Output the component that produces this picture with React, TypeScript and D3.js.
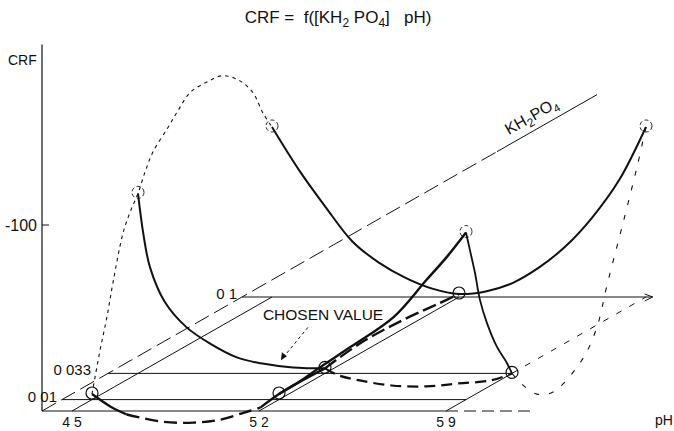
import React from 'react';
import * as d3 from 'd3';

const W = 674;
const H = 431;

// Design levels of the two factors
const PH_LEVELS = [4.5, 5.2, 5.9];
const PH_LABELS = ['4 5', '5 2', '5 9'];
const KH2PO4_LEVELS = [0.01, 0.033, 0.1];
const KH2PO4_LABELS = ['0 01', '0 033', '0 1'];
const CRF_TICKS = [-100];
const CRF_TICK_LABELS = ['-100'];

// CRF at each design point: rows follow PH_LEVELS, columns KH2PO4_LEVELS
const CRF_DESIGN = [
  [-3.0, -96.8, -91.4],
  [-3.0, -2.7, -1.6],
  [-89.8, 0.0, -91.4],
];

// Sections at constant KH2PO4: [pH, CRF]
const KH_010_VS_PH = [
  [4.5, -91.4], [4.6, -68.5], [4.7, -48.5], [4.8, -30], [4.9, -18.5], [5.0, -10.3],
  [5.1, -4.5], [5.2, -1.6], [5.3, -3.0], [5.4, -7.5], [5.5, -15.9], [5.6, -27.4],
  [5.7, -43], [5.8, -63], [5.9, -91.4],
];
const KH_033_VS_PH_FRONT = [
  [4.5, -96.8], [4.52, -75], [4.545, -57], [4.6, -38.5], [4.68, -25], [4.77, -16],
  [4.87, -8.6], [4.96, -5.4], [5.08, -3.2], [5.2, -2.7],
];
const KH_033_VS_PH_BACK = [
  [5.2, -2.7], [5.25, 1], [5.33, 3.8], [5.45, 6.5], [5.58, 7], [5.7, 5.4], [5.82, 3.8], [5.9, 0],
];
const KH_001_VS_PH_LOW = [[4.5, -3.0], [4.57, 3.8], [4.63, 8]];
const KH_001_VS_PH_HIDDEN = [
  [4.63, 8], [4.76, 11.8], [4.88, 12.4], [4.98, 10.8], [5.07, 7], [5.13, 4.3],
];
const KH_001_VS_PH_RISE = [
  [5.13, 4.3], [5.2, -3.0], [5.28, -10], [5.36, -18], [5.47, -28.5], [5.63, -44.5],
  [5.75, -64], [5.83, -77], [5.9, -89.8],
];

// Sections at constant pH: [KH2PO4, CRF]
const PH_45_VS_KH = [
  [0.01, -3.0], [0.014, -24], [0.0175, -40], [0.0205, -56.5], [0.0255, -80], [0.029, -89],
  [0.033, -96.8], [0.0365, -106], [0.0405, -114.5], [0.048, -123], [0.053, -129],
  [0.059, -135], [0.0675, -135.5], [0.0755, -134], [0.084, -126], [0.0905, -115.6],
  [0.0955, -101.6], [0.1, -91.4],
];
const PH_52_VS_KH_FRONT = [[0.01, -3.0], [0.021, -3.2], [0.033, -2.7]];
const PH_52_VS_KH_BACK = [[0.033, -2.7], [0.051, -5.4], [0.072, -4.8], [0.09, -2.7], [0.1, -1.6]];
const PH_59_VS_KH_FRONT = [
  [0.01, -89.8], [0.012, -79], [0.0145, -65.3], [0.017, -49.2], [0.0205, -34.7],
  [0.0255, -18.8], [0.0305, -7], [0.033, 0],
];
const PH_59_VS_KH_BACK = [
  [0.033, 0], [0.0385, 9.7], [0.0455, 18.8], [0.0535, 22.6], [0.068, 14.2], [0.0755, 1.1],
  [0.0805, -18.3], [0.088, -45], [0.0955, -72.6], [0.1, -91.4],
];

// Oblique projection: pH runs to the right, KH2PO4 recedes up-right, CRF rises vertically
const xPH = d3.scaleLinear().domain([4.5, 5.9]).range([72, 446]);
const depthX = d3.scaleLinear().domain([0, 0.1]).range([0, 200]);
const depthY = d3.scaleLinear().domain([0, 0.1]).range([0, 114]);
const yCRF = d3.scaleLinear().domain([0, -100]).range([411, 225]);

const PH_ORIGIN = xPH.invert(42);
const PH_BASE_END = 6.23;
const PH_BACK_END = 5.925;
const KH_AXIS_SOLID = 0.2275;
const KH_AXIS_END = 0.2775;
const CRF_AXIS_TOP = -197;
// gap between each KH2PO4 level label and the start of its line
const LEVEL_LABEL_GAP = [5, 17, 5];

const project = (ph: number, kh: number, crf: number): [number, number] => [
  xPH(ph) + depthX(kh),
  yCRF(crf) - depthY(kh),
];

const FONT = 'Liberation Sans, Arial, sans-serif';

export default function App() {
  const line = d3.line<[number, number]>().curve(d3.curveCatmullRom.alpha(0.5));
  const alongPH = (kh: number, pts: number[][]) =>
    line(pts.map(([ph, c]) => project(ph, kh, c))) || '';
  const alongKH = (ph: number, pts: number[][]) =>
    line(pts.map(([kh, c]) => project(ph, kh, c))) || '';
  const seg = (a: [number, number], b: [number, number]) => `M${a[0]},${a[1]}L${b[0]},${b[1]}`;

  const origin = project(PH_ORIGIN, 0, 0);
  const khSolid = project(PH_ORIGIN, KH_AXIS_SOLID, 0);
  const khEnd = project(PH_ORIGIN, KH_AXIS_END, 0);
  const angle = (Math.atan2(-depthY(0.1), depthX(0.1)) * 180) / Math.PI;
  const labelAnchor = project(PH_ORIGIN, KH_AXIS_SOLID, 0);

  // level line at 0.1 ends in an arrow
  const backEnd = project(PH_BACK_END, 0.1, 0);

  // annotation of the selected operating point
  const noteTip = project(5.035, 0.033, -7);
  const noteTail: [number, number] = [noteTip[0] + 27, noteTip[1] - 33];

  const thin = { fill: 'none', stroke: '#111', strokeWidth: 1 };

  return (
    <svg
      width={W}
      height={H}
      style={{ position: 'absolute', left: 0, top: 0, background: '#fff' }}
      fontFamily={FONT}
    >
      {/* title */}
      <text x={338} y={23} textAnchor="middle" fontSize={17} style={{ whiteSpace: 'pre' }} fill="#111">
        <tspan>{'CRF =  f([KH'}</tspan>
        <tspan dy={4} fontSize={12}>2</tspan>
        <tspan dy={-4}>{' PO'}</tspan>
        <tspan dy={4} fontSize={12}>4</tspan>
        <tspan dy={-4}>{']   pH)'}</tspan>
      </text>

      {/* CRF axis */}
      <path d={seg([origin[0], yCRF(CRF_AXIS_TOP)], origin)} {...thin} strokeWidth={1.2} />
      <text x={8} y={65} fontSize={14} fill="#111">CRF</text>
      {CRF_TICKS.map((t, i) => (
        <g key={t}>
          <path d={seg([origin[0], yCRF(t)], [origin[0] + 7, yCRF(t)])} {...thin} />
          <text x={37} y={yCRF(t) + 6} fontSize={16} textAnchor="end" fill="#111">
            {CRF_TICK_LABELS[i]}
          </text>
        </g>
      ))}

      {/* pH base axis */}
      <path d={seg(origin, project(5.9, 0, 0))} {...thin} />
      <path d={seg(project(5.9, 0, 0), project(PH_BASE_END, 0, 0))} {...thin} strokeDasharray="12 6" />
      {PH_LEVELS.map((ph, i) => (
        <text key={ph} x={xPH(ph)} y={427} fontSize={14} textAnchor="middle" fill="#111" style={{ whiteSpace: 'pre' }}>
          {PH_LABELS[i]}
        </text>
      ))}
      <text x={655} y={425} fontSize={14} fill="#111">pH</text>

      {/* KH2PO4 axis */}
      <path d={seg(origin, khSolid)} {...thin} strokeDasharray="16 6" />
      <path d={seg(khSolid, khEnd)} {...thin} />
      <g transform={`translate(${labelAnchor[0] - 3},${labelAnchor[1] - 8}) rotate(${angle})`}>
        <text x={17} y={0} fontSize={16} fill="#111">
          <tspan>KH</tspan>
          <tspan dy={4} fontSize={12}>2</tspan>
          <tspan dy={-4}>PO</tspan>
          <tspan dy={4} fontSize={11}>4</tspan>
        </text>
      </g>

      {/* KH2PO4 level lines across pH */}
      {KH2PO4_LEVELS.map((kh, i) => {
        const start = project(PH_ORIGIN, kh, 0);
        const end = i === 2 ? backEnd : project(5.9, kh, 0);
        return (
          <g key={kh}>
            <path d={seg(start, end)} {...thin} />
            <text
              x={start[0] - LEVEL_LABEL_GAP[i]}
              y={start[1] + 2}
              fontSize={15}
              textAnchor="end"
              fill="#111"
              style={{ whiteSpace: 'pre' }}
            >
              {KH2PO4_LABELS[i]}
            </text>
          </g>
        );
      })}
      <path
        d={`M${backEnd[0] - 8},${backEnd[1] - 3}L${backEnd[0]},${backEnd[1]}L${backEnd[0] - 8},${backEnd[1] + 4}`}
        {...thin}
      />

      {/* pH level lines receding in KH2PO4 */}
      <path d={seg(project(4.5, 0, 0), project(4.5, 0.1, 0))} {...thin} />
      <path d={seg(project(5.2, 0, 0), project(5.2, 0.1, 0))} {...thin} />
      <path d={seg(project(5.9, 0, 0), project(5.9, 0.033, 0))} {...thin} />
      <path d={seg(project(5.9, 0.033, 0), project(5.9, 0.1, 0))} {...thin} strokeDasharray="6 9" />

      {/* response sections at constant pH */}
      <path d={alongKH(4.5, PH_45_VS_KH)} fill="none" stroke="#111" strokeWidth={1.1} strokeDasharray="3.5 4" />
      <path d={alongKH(5.2, PH_52_VS_KH_FRONT)} fill="none" stroke="#111" strokeWidth={2.4} />
      <path d={alongKH(5.2, PH_52_VS_KH_BACK)} fill="none" stroke="#111" strokeWidth={2.4} strokeDasharray="14 5" />
      <path d={alongKH(5.9, PH_59_VS_KH_FRONT)} fill="none" stroke="#111" strokeWidth={1.8} />
      <path d={alongKH(5.9, PH_59_VS_KH_BACK)} fill="none" stroke="#111" strokeWidth={1.1} strokeDasharray="5 10" />

      {/* response sections at constant KH2PO4 */}
      <path d={alongPH(0.1, KH_010_VS_PH)} fill="none" stroke="#111" strokeWidth={2} />
      <path d={alongPH(0.033, KH_033_VS_PH_FRONT)} fill="none" stroke="#111" strokeWidth={2} />
      <path d={alongPH(0.033, KH_033_VS_PH_BACK)} fill="none" stroke="#111" strokeWidth={2.2} strokeDasharray="11 6" />
      <path d={alongPH(0.01, KH_001_VS_PH_LOW)} fill="none" stroke="#111" strokeWidth={2.4} />
      <path d={alongPH(0.01, KH_001_VS_PH_HIDDEN)} fill="none" stroke="#111" strokeWidth={2.4} strokeDasharray="13 6" />
      <path d={alongPH(0.01, KH_001_VS_PH_RISE)} fill="none" stroke="#111" strokeWidth={2.4} />

      {/* design points */}
      {PH_LEVELS.map((ph, i) =>
        KH2PO4_LEVELS.map((kh, j) => {
          const [cx, cy] = project(ph, kh, CRF_DESIGN[i][j]);
          const raised = CRF_DESIGN[i][j] < -50;
          return (
            <circle
              key={`${ph}-${kh}`}
              cx={cx}
              cy={cy - 1}
              r={6}
              fill="none"
              stroke="#111"
              strokeWidth={raised ? 0.9 : 1.2}
              strokeDasharray={raised ? '4 2.5' : undefined}
            />
          );
        })
      )}

      {/* chosen value note */}
      <text x={noteTip[0] - 18} y={noteTip[1] - 40} fontSize={15.5} fill="#111">CHOSEN VALUE</text>
      <path d={seg(noteTail, [noteTip[0] + 4, noteTip[1] - 5])} {...thin} strokeDasharray="3 3" />
      <path
        d={`M${noteTip[0]},${noteTip[1]}L${noteTip[0] + 1},${noteTip[1] - 8}L${noteTip[0] + 6},${noteTip[1] - 4}Z`}
        fill="#111"
      />
    </svg>
  );
}
